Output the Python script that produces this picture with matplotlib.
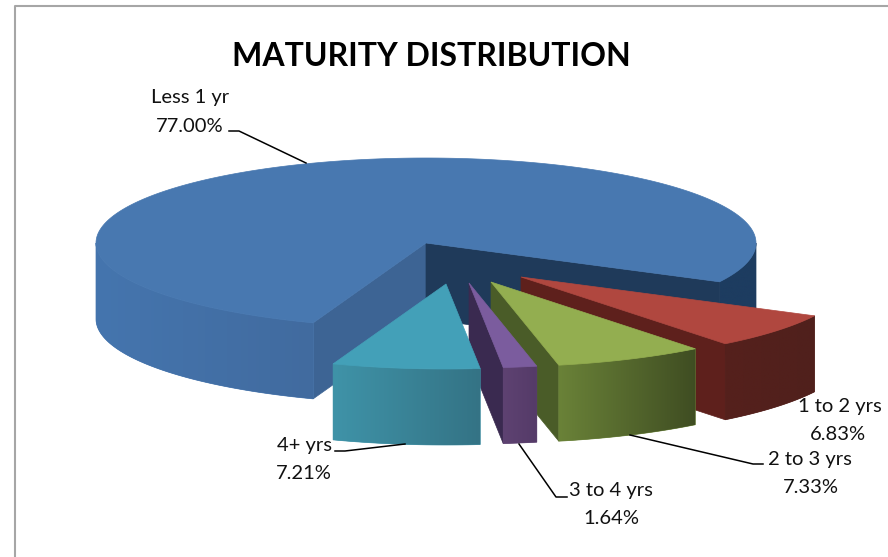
import numpy as np
import matplotlib
matplotlib.use("Agg")
import matplotlib.pyplot as plt
from matplotlib.colors import LinearSegmentedColormap
from matplotlib.patches import Polygon

plt.rcParams["font.family"] = ["Lato", "DejaVu Sans"]

# -------------------------------------------------------
# Data
# -------------------------------------------------------
categories = ["Less 1 yr", "1 to 2 yrs", "2 to 3 yrs", "3 to 4 yrs", "4+ yrs"]
shares = [77.00, 6.83, 7.33, 1.64, 7.21]
share_labels = ["77.00%", "6.83%", "7.33%", "1.64%", "7.21%"]

# -------------------------------------------------------
# Pie geometry (pixels, y pointing down)
# -------------------------------------------------------
CX, CY = 426, 243
RX, RY = 330, 85
DEPTH = 76
START = 110.0

explode_dx = [0, 95, 65, 43, 20]
explode_dy = [0, 34, 39, 40, 41]

top_colors = ["#4878b0", "#b0473f", "#93ae50", "#7b5c9e", "#43a0b8"]
cut_colors = ["#1f3a5a", "#5e201c", "#4a5c28", "#3a2a50", "#347385"]
rim_left = ["#4575ae", "#55201c", "#6a8238", "#5e4272", "#3f93a8"]
rim_right = ["#416b9f", "#50201c", "#3f4d22", "#553b68", "#347385"]
left_cut_color = "#3d6494"
main_right_rim = "#1d3c60"

label_pos = [(190, 103), (840, 412), (810, 465), (611, 496), (304, 451)]
value_pos = [(190, 132), (838, 440), (811, 493), (611, 524), (304, 479)]
leaders = [
    [(229, 131), (239, 131), (306, 163)],
    [],
    [(630, 435), (753, 464), (763, 464)],
    [(519, 444), (556, 497), (567, 497)],
    [(335, 451), (345, 451), (405, 444)],
]


def arc(cx, cy, t0, t1):
    n = max(int(abs(t1 - t0)), 2) + 1
    t = np.radians(np.linspace(t0, t1, n))
    return np.column_stack([cx + RX * np.cos(t), cy + RY * np.sin(t)])


def point(cx, cy, t):
    t = np.radians(t)
    return np.array([cx + RX * np.cos(t), cy + RY * np.sin(t)])


def draw_face(ax, pts, color):
    ax.add_patch(Polygon(pts, closed=True, facecolor=color, edgecolor=color, linewidth=0.5, zorder=1))


def draw_rim(ax, cx, cy, t0, t1, c_left, c_right):
    # outer wall: solid shape first, then a left to right gradient clipped to it
    edge = arc(cx, cy, t0, t1)
    wall = np.vstack([edge, edge[::-1] + [0, DEPTH]])
    draw_face(ax, wall, c_left)
    cmap = LinearSegmentedColormap.from_list("rim", [c_left, c_right])
    extent = (wall[:, 0].min(), wall[:, 0].max(), wall[:, 1].max(), wall[:, 1].min())
    im = ax.imshow(np.linspace(0, 1, 256).reshape(1, -1), cmap=cmap, extent=extent,
                   aspect="auto", interpolation="bilinear", zorder=1)
    im.set_clip_path(Polygon(wall, closed=True, transform=ax.transData))


fig = plt.figure(figsize=(8.88, 5.57), dpi=100)
ax = fig.add_axes([0, 0, 1, 1])
ax.axis("off")

# chart frame
ax.plot([15, 15, 888], [557, 6, 6], color="#a6a6a6", lw=1.5, solid_capstyle="butt")

# slice angles from the values, clockwise on screen
spans = np.array(shares) / sum(shares) * 360
ends = START + np.cumsum(spans)
starts = ends - spans

# -------------------------------------------------------
# Big slice
# -------------------------------------------------------
t0, t1 = starts[0], ends[0]
p_end = point(CX, CY, t1)
p_start = point(CX, CY, t0)

draw_face(ax, [(CX, CY), p_start, p_start + [0, DEPTH], (CX, CY + DEPTH)], left_cut_color)
draw_rim(ax, CX, CY, t0, 180, rim_left[0], rim_right[0])
draw_rim(ax, CX, CY, 360, t1, main_right_rim, main_right_rim)
draw_face(ax, [(CX, CY), p_end, p_end + [0, DEPTH], (CX, CY + DEPTH)], cut_colors[0])
draw_face(ax, np.vstack([[(CX, CY)], arc(CX, CY, t0, t1)]), top_colors[0])

# -------------------------------------------------------
# Pulled out slices, back to front
# -------------------------------------------------------
for i in range(1, len(shares)):
    cx = CX + explode_dx[i]
    cy = CY + explode_dy[i]
    t0, t1 = starts[i], ends[i]
    if i < 4:
        # the cut face on the left shows, except for the last slice
        p = point(cx, cy, t1)
        draw_face(ax, [(cx, cy), p, p + [0, DEPTH], (cx, cy + DEPTH)], cut_colors[i])
    draw_rim(ax, cx, cy, t1, t0, rim_left[i], rim_right[i])
    draw_face(ax, np.vstack([[(cx, cy)], arc(cx, cy, t0, t1)]), top_colors[i])

# -------------------------------------------------------
# Text
# -------------------------------------------------------
ax.text(431, 66, "MATURITY DISTRIBUTION", ha="center", va="baseline",
        fontsize=23, fontweight="bold", color="black")

for i, name in enumerate(categories):
    ax.text(label_pos[i][0], label_pos[i][1], name, ha="center", va="baseline",
            fontsize=14.5, color="#111111")
    ax.text(value_pos[i][0], value_pos[i][1], share_labels[i], ha="center", va="baseline",
            fontsize=14.5, color="#111111")
    if leaders[i]:
        xs, ys = zip(*leaders[i])
        ax.plot(xs, ys, color="black", lw=1.1)

ax.set_xlim(0, 888)
ax.set_ylim(557, 0)

fig.savefig("out.png", dpi=100)
